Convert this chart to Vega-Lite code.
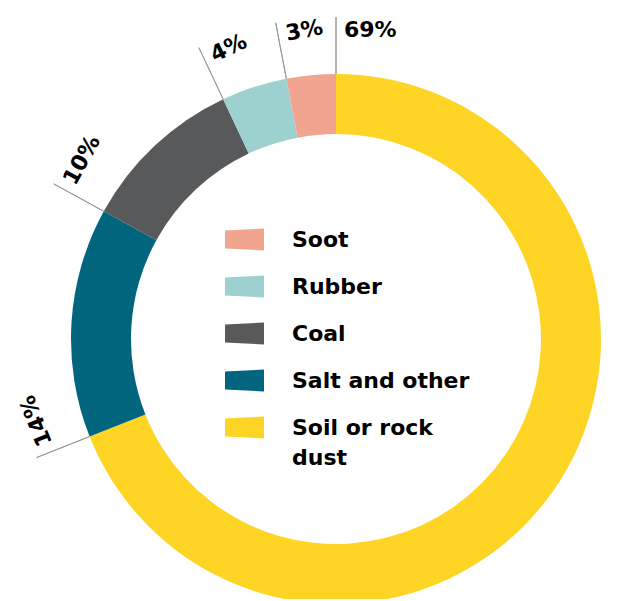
{
  "$schema": "https://vega.github.io/schema/vega-lite/v6.json",
  "width": 560,
  "height": 520,
  "autosize": {"type": "none"},
  "padding": {"left": 56, "top": 79, "right": 0, "bottom": 0},
  "background": "white",
  "config": {"view": {"stroke": null}},
  "data": {
    "values": [
      {"name": "Soil or rock dust", "value": 0.69},
      {"name": "Salt and other", "value": 0.14},
      {"name": "Coal", "value": 0.10},
      {"name": "Rubber", "value": 0.04},
      {"name": "Soot", "value": 0.03}
    ]
  },
  "transform": [
    {"stack": "value", "groupby": [], "sort": [{"field": "value", "order": "descending"}], "as": ["v0", "v1"]}
  ],
  "layer": [
    {
      "mark": {"type": "arc", "radius": 265, "radius2": 205},
      "encoding": {
        "theta": {"field": "v0", "type": "quantitative", "stack": null, "scale": {"domain": [0, 1]}},
        "theta2": {"field": "v1"},
        "color": {
          "field": "name",
          "type": "nominal",
          "scale": {
            "domain": ["Soot", "Rubber", "Coal", "Salt and other", "Soil or rock dust"],
            "range": ["#F1A48F", "#9DD1CF", "#58595B", "#02657E", "#FED425"]
          },
          "legend": {
            "orient": "none",
            "legendX": 169,
            "legendY": 141,
            "title": null,
            "padding": 0,
            "symbolType": "M-1,-0.46L1,-0.564L1,0.564L-1,0.46Z",
            "symbolSize": 1521,
            "symbolStrokeWidth": 0,
            "symbolOpacity": 1,
            "labelFont": "DejaVu Sans",
            "labelFontSize": 22,
            "labelFontWeight": "bold",
            "labelColor": "#000000",
            "labelOffset": 28,
            "labelLimit": 400,
            "rowPadding": 16,
            "labelExpr": "datum.label == 'Soil or rock dust' ? ['Soil or rock', 'dust'] : datum.label",
            "encode": {"labels": {"update": {"lineHeight": {"value": 30}}}}
          }
        }
      }
    },
    {
      "mark": {"type": "arc", "radius": 322, "radius2": 265, "filled": false, "stroke": "#9A9A9A", "strokeWidth": 1},
      "encoding": {
        "theta": {"field": "v0", "type": "quantitative", "stack": null, "scale": {"domain": [0, 1]}},
        "theta2": {"field": "v0"}
      }
    },
    {
      "mark": {"type": "text", "radius": 302, "align": "left", "baseline": "alphabetic", "dx": 8, "font": "DejaVu Sans", "fontWeight": "bold", "fontSize": 22, "color": "#000000"},
      "encoding": {
        "theta": {"field": "v0", "type": "quantitative", "stack": null, "scale": {"domain": [0, 1]}},
        "angle": {"field": "v0", "type": "quantitative", "scale": {"domain": [0, 1], "range": [0, 360]}},
        "text": {"field": "value", "type": "quantitative", "format": ".0%"}
      }
    }
  ]
}
